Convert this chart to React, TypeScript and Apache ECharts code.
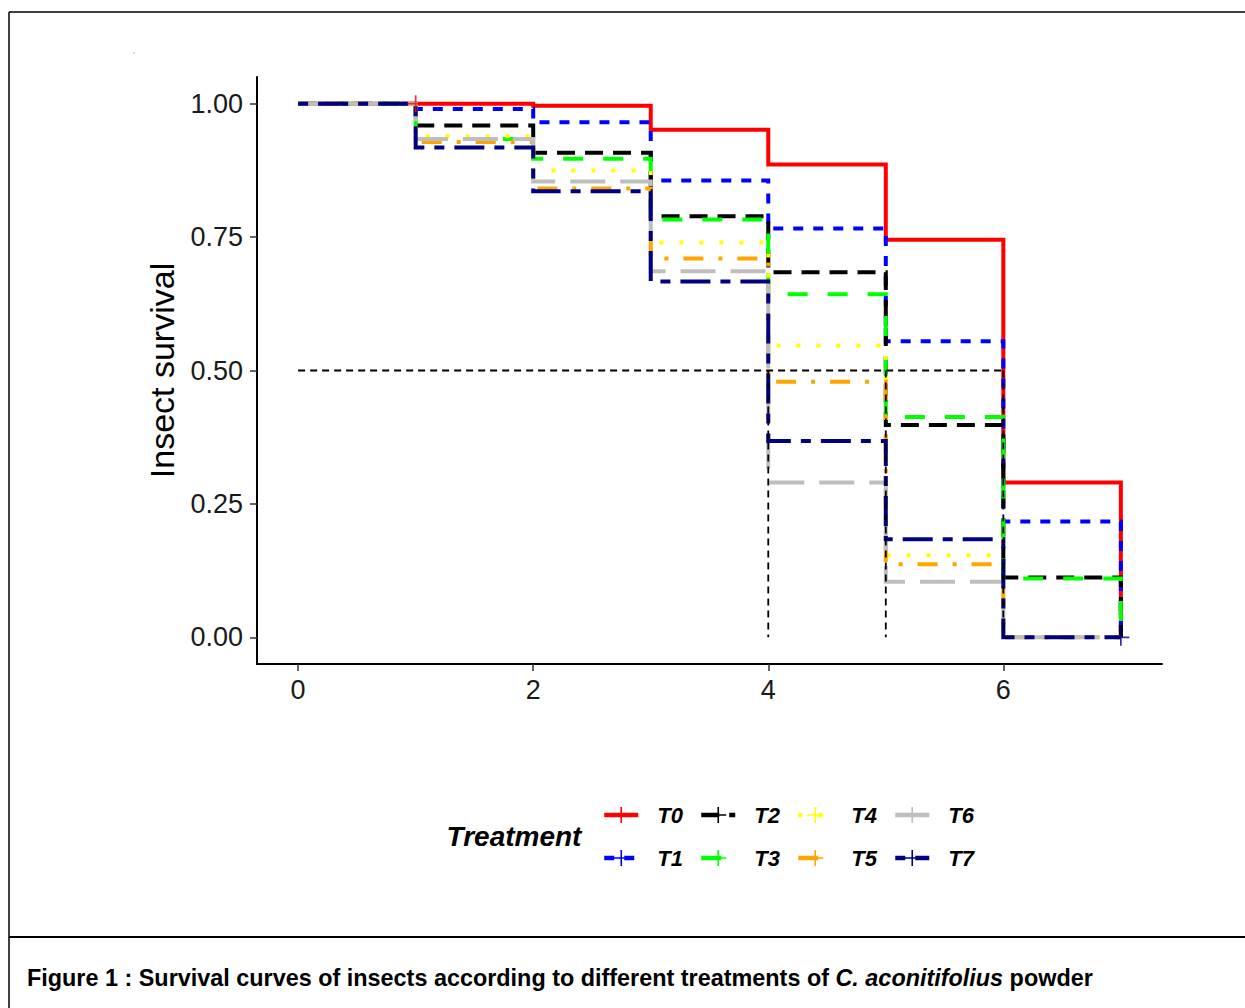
import React, { useEffect, useRef } from 'react';
import * as echarts from 'echarts';

// ---- data ----
const times = [0, 1, 2, 3, 4, 5, 6, 7];
const seriesNames = ['T0', 'T1', 'T2', 'T3', 'T4', 'T5', 'T6', 'T7'];
const T0 = [1, 1.0, 0.996, 0.951, 0.886, 0.745, 0.29, 0];
const T1 = [1, 0.99, 0.965, 0.856, 0.766, 0.555, 0.217, 0];
const T2 = [1, 0.959, 0.908, 0.789, 0.684, 0.398, 0.112, 0];
const T3 = [1, 0.934, 0.897, 0.783, 0.643, 0.413, 0.11, 0];
const T4 = [1, 0.939, 0.875, 0.74, 0.547, 0.154, 0, 0];
const T5 = [1, 0.928, 0.841, 0.71, 0.479, 0.137, 0, 0];
const T6 = [1, 0.934, 0.854, 0.686, 0.29, 0.104, 0, 0];
const T7 = [1, 0.918, 0.836, 0.667, 0.368, 0.184, 0, 0];
const seriesValues = [T0, T1, T2, T3, T4, T5, T6, T7];
const censorPoints: Record<string, number[][]> = {
  T0: [[1, 1.0]],
  T7: [[7, 0]],
};
const xTicks = [0, 2, 4, 6];
const yTicks = [0, 0.25, 0.5, 0.75, 1.0];
const medianLevel = 0.5;
const medianTimes = [4, 5, 6];

// ---- styles ----
const colors = ['#FF0000', '#0000FF', '#000000', '#00FF00', '#FFFF00', '#FFA500', '#BEBEBE', '#000080'];
const dashes: any[] = ['solid', [10, 10], [18, 10], [20, 20], [4, 16], [20, 15, 4, 15], [35, 15], [10, 10, 30, 10]];
const FONT = '"Liberation Sans", Arial, sans-serif';
const PLUS = 'path://M9,0h2v20h-2z M0,9h20v2h-20z';

export default function App() {
  const ref = useRef<HTMLDivElement>(null);
  useEffect(() => {
    const chart = echarts.init(ref.current!, null, { renderer: 'svg' });

    const curveSeries = seriesNames.map((name, i) => ({
      name,
      type: 'line',
      step: 'end',
      data: times.map((t, k) => [t, seriesValues[i][k]]),
      symbol: PLUS,
      showSymbol: false,
      color: colors[i],
      lineStyle: { color: colors[i], width: 4, type: dashes[i], cap: 'butt', join: 'miter' },
      silent: true,
      z: 2,
    }));

    const censorSeries = Object.keys(censorPoints).map((name) => ({
      name: name + ' censor',
      type: 'scatter',
      data: censorPoints[name],
      symbol: PLUS,
      symbolSize: 17,
      itemStyle: { color: colors[seriesNames.indexOf(name)] },
      silent: true,
      z: 4,
    }));

    const medianMax = Math.max(...medianTimes);
    const medianSeries = [
      [[times[0], medianLevel], [medianMax, medianLevel]],
      ...medianTimes.map((t) => [[t, medianLevel], [t, 0]]),
    ].map((d, i) => ({
      name: 'median' + i,
      type: 'line',
      data: d,
      symbol: 'none',
      lineStyle: { color: '#000', width: 1.8, type: [7, 5] },
      silent: true,
      z: 3,
    }));

    const legends = seriesNames.map((name, i) => ({
      data: [name],
      left: 602 + Math.floor(i / 2) * 97,
      top: i % 2 === 0 ? 804 : 847,
      padding: 0,
      itemWidth: 34,
      itemHeight: 20,
      selectedMode: false,
      lineStyle: { width: 4.5, type: dashes[i], cap: 'butt' },
      textStyle: {
        fontFamily: FONT,
        fontWeight: 'bold',
        fontStyle: 'italic',
        fontSize: 22,
        lineHeight: 20,
        color: '#000',
        padding: [0, 0, 0, 14],
      },
    }));

    const option: any = {
      animation: false,
      backgroundColor: '#fff',
      grid: { left: 257, right: 83, top: 77, bottom: 344, containLabel: false },
      xAxis: {
        type: 'value',
        min: -0.35,
        max: 7.35,
        splitLine: { show: false },
        axisLine: { show: true, onZero: false, lineStyle: { color: '#000', width: 2 } },
        axisTick: { show: true, length: 7, customValues: xTicks, lineStyle: { color: '#333', width: 1.5 } },
        axisLabel: { customValues: xTicks, fontFamily: FONT, fontSize: 27, color: '#1a1a1a', margin: 12 },
      },
      yAxis: {
        type: 'value',
        min: -0.05,
        max: 1.05,
        name: 'Insect survival',
        nameLocation: 'middle',
        nameGap: 78,
        nameTextStyle: { fontFamily: FONT, fontSize: 34, color: '#000' },
        splitLine: { show: false },
        axisLine: { show: true, onZero: false, lineStyle: { color: '#000', width: 2 } },
        axisTick: { show: true, length: 7, customValues: yTicks, lineStyle: { color: '#333', width: 1.5 } },
        axisLabel: {
          customValues: yTicks,
          fontFamily: FONT,
          fontSize: 27,
          color: '#1a1a1a',
          margin: 14,
          formatter: (v: number) => v.toFixed(2),
        },
      },
      legend: legends,
      series: [...curveSeries, ...medianSeries, ...censorSeries],
      graphic: [
        { type: 'line', shape: { x1: 9, y1: 12, x2: 1245, y2: 12 }, style: { stroke: '#000', lineWidth: 1.5 } },
        { type: 'line', shape: { x1: 9, y1: 12, x2: 9, y2: 1008 }, style: { stroke: '#000', lineWidth: 1.5 } },
        { type: 'line', shape: { x1: 9, y1: 937, x2: 1245, y2: 937 }, style: { stroke: '#000', lineWidth: 2 } },
        { type: 'circle', shape: { cx: 134, cy: 53, r: 0.6 }, style: { fill: '#999' } },
        {
          type: 'text',
          x: 514,
          y: 836,
          style: {
            text: 'Treatment',
            fontFamily: FONT,
            fontWeight: 'bold',
            fontStyle: 'italic',
            fontSize: 28,
            fill: '#000',
            align: 'center',
            verticalAlign: 'middle',
          },
        },
        {
          type: 'text',
          x: 27,
          y: 978,
          style: {
            text: '{b|Figure 1 : Survival curves of insects according to different treatments of }{i|C. aconitifolius}{b| powder}',
            verticalAlign: 'middle',
            rich: {
              b: { fontFamily: FONT, fontWeight: 'bold', fontSize: 23.4, fill: '#000' },
              i: { fontFamily: FONT, fontWeight: 'bold', fontStyle: 'italic', fontSize: 23.4, fill: '#000' },
            },
          },
        },
      ],
    };
    chart.setOption(option);
    return () => chart.dispose();
  }, []);
  return (
    <div
      ref={ref}
      style={{ position: 'absolute', left: 0, top: 0, width: 1245, height: 1008, background: '#fff' }}
    />
  );
}
